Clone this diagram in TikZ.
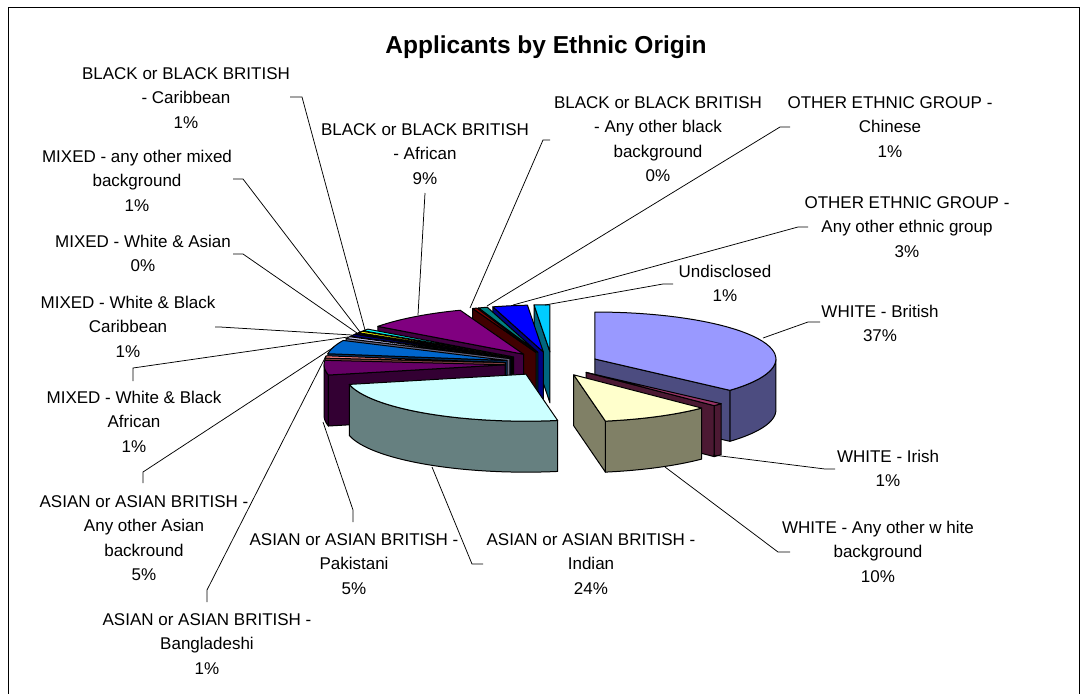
\documentclass[tikz,border=0pt]{standalone}
\usepackage{fontspec}
\setmainfont{Liberation Sans}
\definecolor{cBrit}{HTML}{9999FF}
\definecolor{cIrish}{HTML}{993366}
\definecolor{cOWhite}{HTML}{FFFFCC}
\definecolor{cIndian}{HTML}{CCFFFF}
\definecolor{cPak}{HTML}{660066}
\definecolor{cBang}{HTML}{FF8080}
\definecolor{cOAsian}{HTML}{0066CC}
\definecolor{cWBA}{HTML}{CCCCFF}
\definecolor{cWBC}{HTML}{000080}
\definecolor{cWA}{HTML}{FF00FF}
\definecolor{cMOther}{HTML}{FFFF00}
\definecolor{cBCarib}{HTML}{00FFFF}
\definecolor{cBAfr}{HTML}{800080}
\definecolor{cBOther}{HTML}{800000}
\definecolor{cChinese}{HTML}{008080}
\definecolor{cOEthnic}{HTML}{0000FF}
\definecolor{cUndis}{HTML}{00CCFF}
\newcommand\lbl[1]{\begin{tabular}[t]{@{}c@{}}#1\end{tabular}}
\def\pcx{552}\def\pcy{364}\def\prx{181}\def\pry{47}\def\pdd{47}\def\pk{0.26}\def\phh{51}
\newcommand\pieslice[3]{%
 \pgfmathsetmacro\pSa{#1*3.6}%
 \pgfmathsetmacro\pSb{#2*3.6}%
 \pgfmathsetmacro\pSm{(\pSa+\pSb)/2}%
 \pgfmathsetmacro\pOx{\pcx+\pdd*sin(\pSm)}%
 \pgfmathsetmacro\pOy{\pcy-\pdd*\pk*cos(\pSm)}%
 \pgfmathsetmacro\pOyb{\pOy+\phh}%
 \pgfmathsetmacro\pAx{\pOx+\prx*sin(\pSa)}%
 \pgfmathsetmacro\pAy{\pOy-\pry*cos(\pSa)}%
 \pgfmathsetmacro\pBx{\pOx+\prx*sin(\pSb)}%
 \pgfmathsetmacro\pBy{\pOy-\pry*cos(\pSb)}%
 \pgfmathtruncatemacro\pFs{sin(\pSa)<-0.001 ? 1 : 0}%
 \pgfmathtruncatemacro\pFe{sin(\pSb)>0.001 ? 1 : 0}%
 \pgfmathsetmacro\pP{max(\pSa,90)}%
 \pgfmathsetmacro\pQ{min(\pSb,270)}%
 \pgfmathtruncatemacro\pFw{\pQ>\pP+0.01 ? 1 : 0}%
 \ifnum\pFw=1
   \filldraw[pieedge, fill=#3!50!black] plot[domain=\pP:\pQ, samples=40, variable=\t] ({\pOx+\prx*sin(\t)},{\pOy-\pry*cos(\t)}) -- plot[domain=\pQ:\pP, samples=40, variable=\t] ({\pOx+\prx*sin(\t)},{\pOyb-\pry*cos(\t)}) -- cycle;
 \fi
 \ifnum\pFs=1
   \filldraw[pieedge, fill=#3!50!black] (\pOx,\pOy) -- (\pAx,\pAy) -- (\pAx,{\pAy+\phh}) -- (\pOx,\pOyb) -- cycle;
 \fi
 \ifnum\pFe=1
   \filldraw[pieedge, fill=#3!50!black] (\pOx,\pOy) -- (\pBx,\pBy) -- (\pBx,{\pBy+\phh}) -- (\pOx,\pOyb) -- cycle;
 \fi
 \filldraw[pieedge, fill=#3] (\pOx,\pOy) -- plot[domain=\pSa:\pSb, samples=40, variable=\t] ({\pOx+\prx*sin(\t)},{\pOy-\pry*cos(\t)}) -- cycle;
}
\begin{document}
\begin{tikzpicture}[x=1pt,y=-1pt,
  pieedge/.style={draw=black, line width=1pt, line join=round},
  leader/.style={draw=black, line width=0.75pt},
  labeltext/.style={anchor=base, inner sep=0pt, text=black, font=\fontsize{17}{24.5}\selectfont},
  titletext/.style={anchor=base, inner sep=0pt, text=black, font=\fontsize{24.5}{28}\selectfont\bfseries}]
\useasboundingbox (0,0) rectangle (1086,693);
\fill[white] (0,0) rectangle (1086,693);
\begin{scope}
\clip (0,0) rectangle (1086,693);
\draw[line width=1pt] (8,8) rectangle (1079,720);
\end{scope}
\node[titletext] (title) at (546,53) {Applicants by Ethnic Origin};
% pie slices (back to front)
\pieslice{0}{36.6}{cBrit}
\pieslice{36.6}{37.5}{cIrish}
\pieslice{37.5}{47.2}{cOWhite}
\pieslice{98.6}{100}{cUndis}
\pieslice{95.5}{98.6}{cOEthnic}
\pieslice{94.7}{95.5}{cChinese}
\pieslice{94.3}{94.7}{cBOther}
\pieslice{85.1}{94.3}{cBAfr}
\pieslice{84.4}{85.1}{cBCarib}
\pieslice{83.8}{84.4}{cMOther}
\pieslice{83.4}{83.8}{cWA}
\pieslice{82.7}{83.4}{cWBC}
\pieslice{82.0}{82.7}{cWBA}
\pieslice{77.3}{82.0}{cOAsian}
\pieslice{76.5}{77.3}{cBang}
\pieslice{71.5}{76.5}{cPak}
\pieslice{47.2}{71.5}{cIndian}
% labels
\node[labeltext] (lBCarib) at (186,79) {\lbl{BLACK or BLACK BRITISH\\- Caribbean\\1\%}};
\node[labeltext] (lBAfr) at (425,135) {\lbl{BLACK or BLACK BRITISH\\- African\\9\%}};
\node[labeltext] (lBOther) at (658,108) {\lbl{BLACK or BLACK BRITISH\\- Any other black\\background\\0\%}};
\node[labeltext] (lChinese) at (890,108) {\lbl{OTHER ETHNIC GROUP -\\Chinese\\1\%}};
\node[labeltext] (lOEthnic) at (907,208) {\lbl{OTHER ETHNIC GROUP -\\Any other ethnic group\\3\%}};
\node[labeltext] (lUndis) at (725,277) {\lbl{Undisclosed\\1\%}};
\node[labeltext] (lBrit) at (880,317) {\lbl{WHITE - British\\37\%}};
\node[labeltext] (lIrish) at (888,462) {\lbl{WHITE - Irish\\1\%}};
\node[labeltext] (lOWhite) at (878,533) {\lbl{WHITE - Any other w hite\\background\\10\%}};
\node[labeltext] (lIndian) at (591,545) {\lbl{ASIAN or ASIAN BRITISH -\\Indian\\24\%}};
\node[labeltext] (lPak) at (354,545) {\lbl{ASIAN or ASIAN BRITISH -\\Pakistani\\5\%}};
\node[labeltext] (lBang) at (207,625) {\lbl{ASIAN or ASIAN BRITISH -\\Bangladeshi\\1\%}};
\node[labeltext] (lOAsian) at (144,507) {\lbl{ASIAN or ASIAN BRITISH -\\Any other Asian\\backround\\5\%}};
\node[labeltext] (lWBA) at (134,403) {\lbl{MIXED - White \& Black\\African\\1\%}};
\node[labeltext] (lWBC) at (128,308) {\lbl{MIXED - White \& Black\\Caribbean\\1\%}};
\node[labeltext] (lWA) at (143,247) {\lbl{MIXED - White \& Asian\\0\%}};
\node[labeltext] (lMOther) at (137,162) {\lbl{MIXED - any other mixed\\background\\1\%}};
% leader points
\coordinate (bcA) at (290,97);  \coordinate (bcB) at (302,97);  \coordinate (bcC) at (365,330);
\coordinate (baA) at (425,193); \coordinate (baC) at (418,315);
\coordinate (boA) at (550,140); \coordinate (boB) at (543,140); \coordinate (boC) at (470,308);
\coordinate (chA) at (790,127); \coordinate (chB) at (780,127); \coordinate (chC) at (487,306);
\coordinate (oeA) at (808,227); \coordinate (oeB) at (798,227); \coordinate (oeC) at (513,305);
\coordinate (unA) at (673,284); \coordinate (unB) at (663,284); \coordinate (unC) at (545,305);
\coordinate (brA) at (820,322); \coordinate (brB) at (808,322); \coordinate (brC) at (763,338);
\coordinate (irA) at (835,469); \coordinate (irB) at (825,469); \coordinate (irC) at (713,455);
\coordinate (owA) at (790,552); \coordinate (owB) at (778,552); \coordinate (owC) at (665,467);
\coordinate (inA) at (483,564); \coordinate (inB) at (472,564); \coordinate (inC) at (432,467);
\coordinate (pkA) at (353,522); \coordinate (pkB) at (353,510); \coordinate (pkC) at (323,422);
\coordinate (bgA) at (207,602); \coordinate (bgB) at (207,590); \coordinate (bgC) at (326,356);
\coordinate (oaA) at (143,483); \coordinate (oaB) at (143,472); \coordinate (oaC) at (334,347);
\coordinate (waA) at (133,381); \coordinate (waB) at (133,368); \coordinate (waC) at (348,337);
\coordinate (wcA) at (215,327); \coordinate (wcB) at (220,327); \coordinate (wcC) at (352,335);
\coordinate (asA) at (233,254); \coordinate (asB) at (243,254); \coordinate (asC) at (357,333);
\coordinate (moA) at (233,179); \coordinate (moB) at (243,179); \coordinate (moC) at (360,332);
\draw[leader] (bcA) -- (bcB) -- (bcC);
\draw[leader] (baA) -- (baC);
\draw[leader] (boA) -- (boB) -- (boC);
\draw[leader] (chA) -- (chB) -- (chC);
\draw[leader] (oeA) -- (oeB) -- (oeC);
\draw[leader] (unA) -- (unB) -- (unC);
\draw[leader] (brA) -- (brB) -- (brC);
\draw[leader] (irA) -- (irB) -- (irC);
\draw[leader] (owA) -- (owB) -- (owC);
\draw[leader] (inA) -- (inB) -- (inC);
\draw[leader] (pkA) -- (pkB) -- (pkC);
\draw[leader] (bgA) -- (bgB) -- (bgC);
\draw[leader] (oaA) -- (oaB) -- (oaC);
\draw[leader] (waA) -- (waB) -- (waC);
\draw[leader] (wcA) -- (wcB) -- (wcC);
\draw[leader] (asA) -- (asB) -- (asC);
\draw[leader] (moA) -- (moB) -- (moC);
\end{tikzpicture}
\end{document}
